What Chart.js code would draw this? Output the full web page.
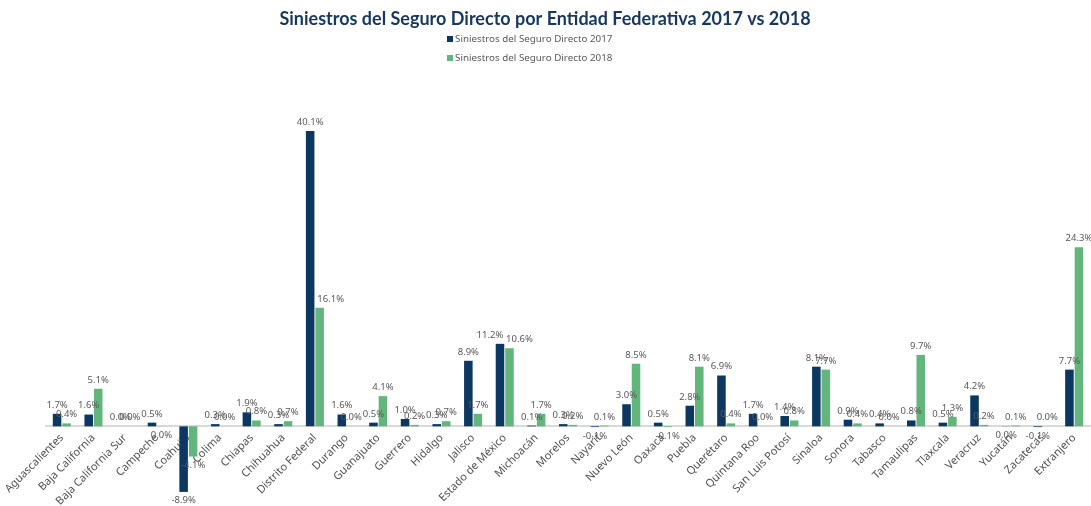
<!DOCTYPE html>
<html>
<head>
<meta charset="utf-8">
<script src="https://cdn.jsdelivr.net/npm/chart.js@4"></script>
<style>
  html, body { margin: 0; padding: 0; background: #fff; }
  #wrap { width: 1091px; height: 506px; position: relative; }
</style>
</head>
<body>
<div id="wrap"><canvas id="siniestros-chart" width="1091" height="506"></canvas></div>
<script>
let titleText = "Siniestros del Seguro Directo por Entidad Federativa 2017 vs 2018"
let seriesNames = ["Siniestros del Seguro Directo 2017", "Siniestros del Seguro Directo 2018"]
let estados = ["Aguascalientes", "Baja California", "Baja California Sur", "Campeche", "Coahuila", "Colima",
  "Chiapas", "Chihuahua", "Distrito Federal", "Durango", "Guanajuato", "Guerrero", "Hidalgo", "Jalisco",
  "Estado de México", "Michoacán", "Morelos", "Nayarit", "Nuevo León", "Oaxaca", "Puebla", "Querétaro",
  "Quintana Roo", "San Luis Potosí", "Sinaloa", "Sonora", "Tabasco", "Tamaulipas", "Tlaxcala", "Veracruz",
  "Yucatán", "Zacatecas", "Extranjero"]
// valores en %, los -0.02 se muestran como 0.0% pero quedan bajo el eje (como en el original)
let valores2017 = [1.7, 1.6, 0.0, 0.5, -8.9, 0.3, 1.9, 0.3, 40.1, 1.6, 0.5, 1.0, 0.3, 8.9, 11.2, 0.1, 0.3, -0.1,
  3.0, 0.5, 2.8, 6.9, 1.7, 1.4, 8.1, 0.9, 0.4, 0.8, 0.5, 4.2, -0.02, -0.1, 7.7]
let valores2018 = [0.4, 5.1, 0.0, -0.02, -4.1, 0.0, 0.8, 0.7, 16.1, 0.0, 4.1, 0.2, 0.7, 1.7, 10.6, 1.7, 0.2, 0.1,
  8.5, -0.1, 8.1, 0.4, 0.0, 0.8, 7.7, 0.4, 0.0, 9.7, 1.3, 0.2, 0.1, 0.0, 24.3]

const colors = ['#0B3760', '#62B67C']
const labelFont = '"Noto Sans", sans-serif'

function fmt(v) {
  if (Math.abs(v) < 0.05) return '0.0%'
  return v.toFixed(1) + '%'
}

// titulo, leyenda y etiquetas de datos dibujados a mano
const extras = {
  id: 'extras',
  afterDatasetsDraw(chart) {
    const ctx = chart.ctx
    ctx.save()
    ctx.font = '9.5px ' + labelFont
    ctx.fillStyle = '#595959'
    ctx.textAlign = 'center'
    const m0 = chart.getDatasetMeta(0), m1 = chart.getDatasetMeta(1)
    chart.data.labels.forEach((lab, j) => {
      const pair = [[valores2017[j], m0.data[j]], [valores2018[j], m1.data[j]]]
      // si las dos etiquetas grandes chocan, se separan hacia afuera
      let shift = 0
      if (valores2017[j] > 10 && valores2018[j] > 10 && Math.abs(valores2017[j] - valores2018[j]) < 3) shift = 10
      if (valores2017[j] > 10 && valores2018[j] > 10 && Math.abs(valores2017[j] - valores2018[j]) >= 3) shift = 0
      pair.forEach(([v, bar], i) => {
        let x = bar.x + (i === 0 ? -shift : shift)
        if (j === 8 && i === 1) x = bar.x + 11
        if (v < 0) {
          ctx.textBaseline = 'top'
          ctx.fillText(fmt(v), x, bar.y + 4)
        } else {
          ctx.textBaseline = 'bottom'
          ctx.fillText(fmt(v), x, bar.y - 4)
        }
      })
    })
    ctx.restore()
  },
  afterDraw(chart) {
    const ctx = chart.ctx
    ctx.save()
    ctx.font = 'bold 18px Lato, sans-serif'
    ctx.fillStyle = '#17375E'
    ctx.textAlign = 'center'
    ctx.textBaseline = 'middle'
    ctx.fillText(titleText, 545, 19)
    ctx.font = '9.8px ' + labelFont
    ctx.textAlign = 'left'
    seriesNames.forEach((name, i) => {
      const y = 39 + i * 19
      ctx.fillStyle = colors[i]
      ctx.fillRect(447, y - 3, 6, 6)
      ctx.fillStyle = '#595959'
      ctx.fillText(name, 455, y)
    })
    ctx.restore()
  }
}

new Chart(document.querySelector('#siniestros-chart').getContext('2d'), {
  type: 'bar',
  data: {
    labels: estados,
    datasets: [
      { label: seriesNames[0], data: valores2017, backgroundColor: colors[0] },
      { label: seriesNames[1], data: valores2018, backgroundColor: colors[1] },
    ],
  },
  options: {
    responsive: false,
    animation: false,
    layout: { padding: { top: 58, bottom: 6, left: 46, right: 1 } },
    datasets: { bar: { categoryPercentage: 0.6, barPercentage: 0.9 } },
    plugins: { legend: { display: false }, title: { display: false }, tooltip: { enabled: false } },
    scales: {
      x: {
        position: { y: 0 },
        grid: { display: false, drawTicks: false },
        border: { color: '#D9D9D9', width: 2 },
        ticks: {
          maxRotation: 45, minRotation: 45, autoSkip: false, padding: 5,
          color: '#505050', font: { family: labelFont, size: 11 },
        },
      },
      y: { display: false, min: -10, max: 50 },
    },
  },
  plugins: [extras],
})
</script>
</body>
</html>
